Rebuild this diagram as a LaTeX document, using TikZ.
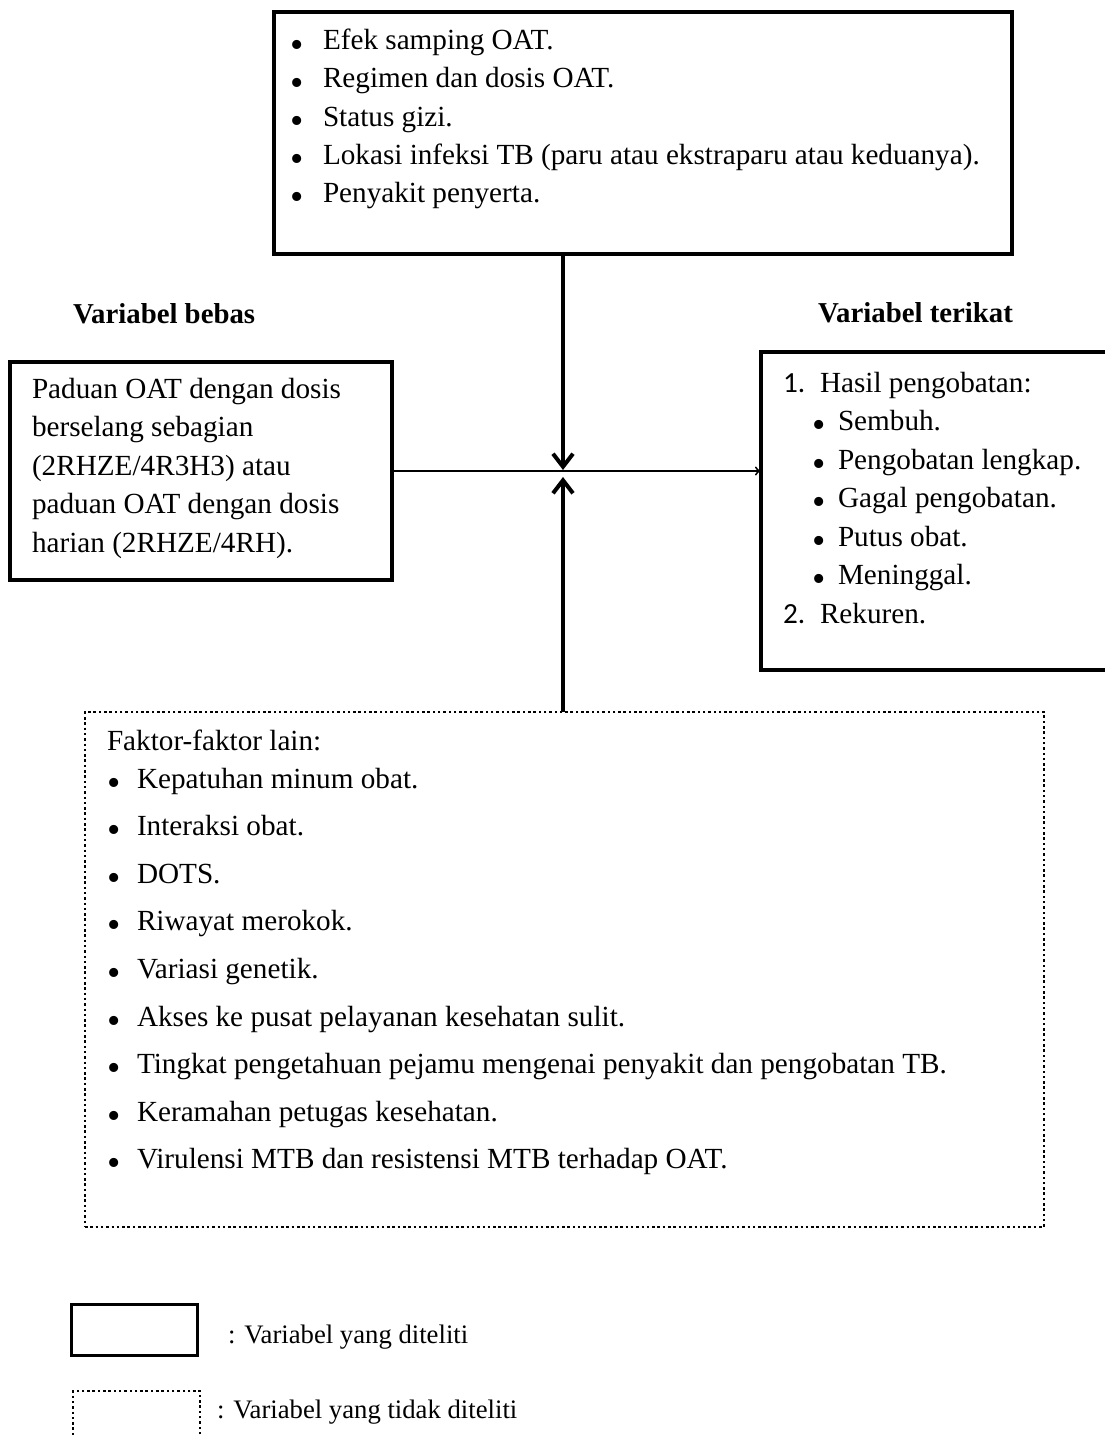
\documentclass[tikz,border=0pt]{standalone}
\usepackage{fontspec}
\setmainfont{Liberation Serif}
\newfontfamily\numfont{Carlito}
\usetikzlibrary{arrows.meta}
\newcommand{\bul}[2][30pt]{\makebox[#1][l]{\raisebox{-0.24em}{\scalebox{1.3}{\textbullet}}}#2}

\begin{document}
\begin{tikzpicture}[x=1pt, y=-1pt,
	every node/.style={font=\fontsize{29.2}{34}\selectfont, inner sep=0pt, outer sep=0pt},
	txt/.style={anchor=base west},
	head/.style={anchor=base west, font=\fontsize{28.8}{34}\selectfont\bfseries},
	legtxt/.style={anchor=base west, font=\fontsize{26.7}{32}\selectfont},
	varbox/.style={draw, line width=4pt, anchor=north west},
	otherbox/.style={draw, line width=2.5pt, dash pattern=on 2.5pt off 2.8pt, anchor=north west},
	bigarrow/.style={line width=4pt, -{Straight Barb[length=13pt,width=20pt]}},
	thinarrow/.style={line width=1.5pt, -{To[length=6pt,width=9pt]}}]
	\useasboundingbox (0,0) rectangle (1105,1437);

	% boxes
	\node[varbox, minimum width=738pt, minimum height=242pt] (modif) at (274,12) {};
	\node[varbox, minimum width=382pt, minimum height=218pt] (bebas) at (10,362) {};
	\node[varbox, minimum width=380pt, minimum height=318pt] (terikat) at (761,352) {};
	\node[otherbox, minimum width=959pt, minimum height=515pt] (lain) at (85,712) {};

	% top box
	\foreach \t [count=\i] in {{Efek samping OAT.},{Regimen dan dosis OAT.},{Status gizi.},
		{Lokasi infeksi TB (paru atau ekstraparu atau keduanya).},{Penyakit penyerta.}}
		\node[txt] (modif-\i) at (290,12+38*\i) {\bul[33pt]{\t}};

	% headings
	\node[head] (bebas-head) at (73,323) {Variabel bebas};
	\node[head] (terikat-head) at (818,322) {Variabel terikat};

	% left box
	\foreach \t [count=\i] in {{Paduan OAT dengan dosis},{berselang sebagian},
		{(2RHZE/4R3H3) atau},{paduan OAT dengan dosis},{harian (2RHZE/4RH).}}
		\node[txt] (bebas-\i) at (32,359.5+38.5*\i) {\t};

	% right box
	\node[txt] (hasil) at (783,392) {\makebox[37pt][l]{\numfont 1.}Hasil pengobatan:};
	\foreach \t [count=\i] in {{Sembuh.},{Pengobatan lengkap.},{Gagal pengobatan.},
		{Putus obat.},{Meninggal.}}
		\node[txt] (hasil-\i) at (812,392+38.5*\i) {\bul[26pt]{\t}};
	\node[txt] (rekuren) at (783,623) {\makebox[37pt][l]{\numfont 2.}Rekuren.};

	% dotted box
	\node[txt] (lain-head) at (107,750) {Faktor-faktor lain:};
	\foreach \t [count=\i] in {{Kepatuhan minum obat.},{Interaksi obat.},{DOTS.},
		{Riwayat merokok.},{Variasi genetik.},{Akses ke pusat pelayanan kesehatan sulit.},
		{Tingkat pengetahuan pejamu mengenai penyakit dan pengobatan TB.},
		{Keramahan petugas kesehatan.},{Virulensi MTB dan resistensi MTB terhadap OAT.}}
		\node[txt] (lain-\i) at (107,740.4+47.6*\i) {\bul[30pt]{\t}};

	% arrows
	\coordinate (meet) at (563,472);
	\draw[bigarrow] (meet |- modif.south) -- ([yshift=2pt]meet);
	\draw[bigarrow] (meet |- lain.north) -- ([yshift=-5pt]meet);
	\draw[thinarrow] (bebas.east) -- (bebas.east -| terikat.west);

	% legend
	\node[varbox, line width=3pt, minimum width=126pt, minimum height=51pt] (leg-var) at (71,1304) {};
	\node[legtxt] (leg-var-txt) at (228,1343) {: Variabel yang diteliti};
	\node[otherbox, minimum width=127pt, minimum height=70pt] (leg-other) at (73,1391) {};
	\node[legtxt] (leg-other-txt) at (217,1418) {: Variabel yang tidak diteliti};
\end{tikzpicture}
\end{document}
